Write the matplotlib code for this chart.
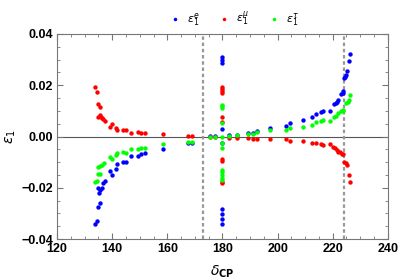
import matplotlib
matplotlib.use("Agg")
import matplotlib.pyplot as plt
from matplotlib.ticker import MultipleLocator, FuncFormatter

plt.rcParams['font.family'] = ['Liberation Sans', 'DejaVu Sans']
plt.rcParams['mathtext.fontset'] = 'dejavusans'

# epsilon_1^e (blue)
e_d = [133.7, 134.5, 135.0, 135.5, 135.0, 135.3, 135.5, 136.2, 136.8, 137.4, 139.2, 139.8, 141.4, 141.6,
       144.0, 145.0, 146.7, 149.3, 150.5, 151.9, 158.5, 167.6, 168.8,
       180, 180, 180, 180, 180, 180, 180, 180, 180,
       175.5, 177.3, 182.5, 185.4, 189.4, 191.2, 192.4, 197.2, 203.0, 204.5, 209.3, 212.6,
       214.1, 215.6, 216.6, 219.0, 220.4, 221.2, 221.4, 222.0, 222.9, 223.6, 223.8,
       224.2, 224.4, 224.8, 225.3, 225.9, 226.2]
e_v = [-0.0342, -0.0329, -0.0274, -0.0261, -0.0202, -0.0219, -0.0209, -0.0202, -0.0183, -0.0175, -0.0133, -0.0150, -0.0127, -0.0107,
       -0.0099, -0.0099, -0.0076, -0.0075, -0.0070, -0.0066, -0.0049, -0.0027, -0.0027,
       0.0311, 0.0299, 0.0286, 0.0028, -0.0027, -0.0283, -0.0302, -0.0323, -0.0343,
       0.0001, 0.0002, 0.0004, 0.0006, 0.0015, 0.0012, 0.0023, 0.0034, 0.0041, 0.0052, 0.0064, 0.0075,
       0.0088, 0.0097, 0.0101, 0.0101, 0.0126, 0.0130, 0.0136, 0.0142, 0.0166, 0.0171, 0.0178,
       0.0227, 0.0230, 0.0240, 0.0257, 0.0295, 0.0322]

# epsilon_1^mu (red)
m_d = [133.7, 134.5, 135.0, 135.5, 135.0, 135.5, 135.8, 136.2, 136.8, 137.4, 139.2, 139.8, 141.3, 141.6,
       144.0, 145.0, 146.7, 149.3, 150.5, 151.9, 158.5, 167.6, 168.8,
       180, 180, 180, 180, 180, 180, 180, 180, 180, 180,
       175.5, 177.3, 182.5, 185.4, 189.4, 191.2, 192.4, 197.2, 203.0, 204.5, 209.3, 212.6,
       214.1, 215.7, 216.6, 219.0, 220.2, 220.8, 221.4, 222.0, 222.6, 223.2, 223.8,
       224.2, 224.8, 225.2, 225.8, 226.2]
m_v = [0.0192, 0.0173, 0.0126, 0.0116, 0.0075, 0.0084, 0.0077, 0.0071, 0.0067, 0.0059, 0.0038, 0.0048, 0.0032, 0.0025,
       0.0025, 0.0025, 0.0015, 0.0016, 0.0014, 0.0013, 0.0010, 0.0003, 0.0003,
       0.0194, 0.0186, 0.0178, 0.0169, 0.0077, 0.0058, -0.0094, -0.0176, -0.0183, -0.0089,
       -0.0002, -0.0002, -0.0004, -0.0007, -0.0007, -0.0008, -0.0008, -0.0010, -0.0011, -0.0016, -0.0018, -0.0024,
       -0.0027, -0.0030, -0.0032, -0.0031, -0.0040, -0.0045, -0.0053, -0.0059, -0.0062, -0.0067, -0.0070,
       -0.0101, -0.0105, -0.0111, -0.0150, -0.0176]

# epsilon_1^tau (green)
t_d = [133.8, 134.6, 135.0, 135.6, 135.0, 135.6, 136.2, 137.2, 139.2, 139.8, 141.4, 141.6,
       144.0, 145.0, 146.7, 149.3, 150.5, 151.9, 158.5, 167.6, 168.8,
       180, 180, 180, 180, 180, 180, 180, 180, 180, 180, 180, 180,
       175.5, 177.3, 182.5, 185.4, 189.4, 191.2, 192.4, 197.2, 203.0, 204.5, 209.3, 212.6,
       214.1, 215.6, 216.6, 219.0, 220.4, 221.2, 222.0, 222.9, 223.6, 223.8,
       225.0, 225.4, 225.9, 226.2]
t_v = [-0.0176, -0.0172, -0.0148, -0.0145, -0.0118, -0.0115, -0.0111, -0.0105, -0.0081, -0.0088, -0.0072, -0.0066,
       -0.0062, -0.0063, -0.0050, -0.0049, -0.0044, -0.0043, -0.0031, -0.0020, -0.0020,
       0.0123, 0.0117, 0.0110, 0.0054, 0.0000, -0.0027, -0.0046, -0.0131, -0.0140, -0.0150, -0.0160, -0.0170,
       -0.0001, 0.0000, 0.0002, 0.0004, 0.0011, 0.0010, 0.0017, 0.0024, 0.0026, 0.0032, 0.0038, 0.0045,
       0.0058, 0.0061, 0.0063, 0.0062, 0.0075, 0.0080, 0.0091, 0.0100, 0.0100, 0.0103,
       0.0130, 0.0136, 0.0142, 0.0162]

vlines = [172.9, 224.1]

fig = plt.figure(figsize=(3.99, 2.80), dpi=100)
ax = fig.add_axes([0.143, 0.146, 0.829, 0.733])

ax.axhline(0, color='#555555', lw=0.8, zorder=1)
for v in vlines:
    ax.axvline(v, color='#999999', lw=1.6, ls=(0, (1.6, 1.2)), zorder=1)

ax.scatter(e_d, e_v, s=10, color='#0000ff', lw=0, zorder=3, label=r'$\epsilon_1^{e}$')
ax.scatter(m_d, m_v, s=10, color='#ff0000', lw=0, zorder=3, label=r'$\epsilon_1^{\mu}$')
ax.scatter(t_d, t_v, s=10, color='#00ff00', lw=0, zorder=3, label=r'$\epsilon_1^{\tau}$')

ax.set_xlim(120, 240)
ax.set_ylim(-0.04, 0.04)
ax.xaxis.set_major_locator(MultipleLocator(20))
ax.xaxis.set_minor_locator(MultipleLocator(5))
ax.yaxis.set_major_locator(MultipleLocator(0.02))
ax.yaxis.set_minor_locator(MultipleLocator(0.005))
ax.yaxis.set_major_formatter(FuncFormatter(lambda v, p: f"{v:.2f}".replace('-', '\u2212')))

ax.tick_params(which='both', direction='in', top=True, right=True, color='#777777',
               labelsize=9, pad=3)
ax.tick_params(which='major', length=4, width=0.8)
ax.tick_params(which='minor', length=2, width=0.6)
for lab in ax.get_xticklabels() + ax.get_yticklabels():
    lab.set_fontweight('bold')
for s in ax.spines.values():
    s.set_color('#777777')
    s.set_linewidth(0.8)

ax.set_xlabel(r'$\delta_{\mathbf{CP}}$', fontsize=10, labelpad=6)
ax.set_ylabel(r'$\epsilon_1$', fontsize=10, labelpad=2)

fig.legend(loc='upper center', bbox_to_anchor=(0.58, 1.0), ncol=3, frameon=False,
           fontsize=8, handletextpad=0.1, columnspacing=1.2, markerscale=0.8)

fig.savefig("out.png", dpi=100)
